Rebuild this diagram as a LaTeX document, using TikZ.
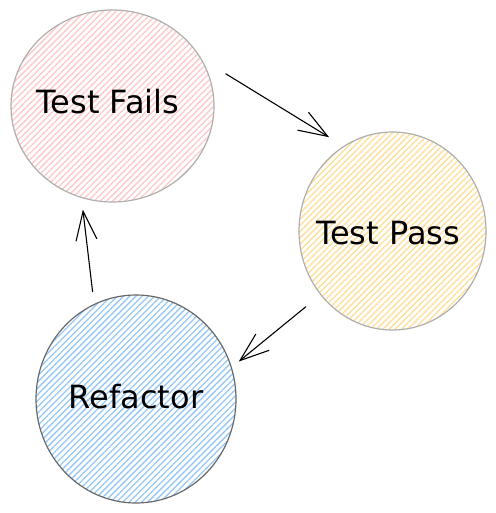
\documentclass[tikz,border=0pt]{standalone}
\usepackage{fontspec}
\setmainfont{DejaVu Sans}
\usetikzlibrary{shapes.geometric,arrows.meta,patterns.meta}
\definecolor{failpink}{RGB}{255,200,200}
\definecolor{passyellow}{RGB}{255,222,150}
\definecolor{refblue}{RGB}{150,200,245}
\definecolor{rimlight}{RGB}{175,175,175}
\definecolor{rimdark}{RGB}{105,105,105}

\begin{document}
\begin{tikzpicture}[x=1pt,y=-1pt,
  stage/.style={ellipse,draw=rimlight,line width=1.2pt,inner sep=0pt,
                pattern={Lines[angle=45,distance=4.4pt,line width=1.3pt]}},
  stagetext/.style={font=\fontsize{32}{38}\selectfont},
  flow/.style={-{Straight Barb[length=29pt,width=21pt]},line width=1.1pt,black}
]
  \fill[white] (0,0) rectangle (495,513);

  \node[stage,pattern color=failpink,minimum width=203pt,minimum height=192pt] (fails) at (112.5,106) {};
  \node[stage,pattern color=passyellow,minimum width=187pt,minimum height=198pt] (pass) at (392.5,231) {};
  \node[stage,draw=rimdark,pattern color=refblue,minimum width=200pt,minimum height=208pt] (refactor) at (136,399) {};

  \node[stagetext] (failstxt) at (108,102) {Test Fails};
  \node[stagetext] (passtxt) at (388,233) {Test Pass};
  \node[stagetext] (refactortxt) at (136,397) {Refactor};

  \draw[flow] ([shift={(15.3,-4.3)}]fails.16) -- ([shift={(-8.75,-12.75)}]pass.124);
  \draw[flow] ([shift={(-13.8,12.4)}]pass.221.6) -- ([shift={(7.8,-2.9)}]refactor.20.4);
  \draw[flow] ([shift={(-4.4,-10.5)}]refactor.112.5) -- ([shift={(-2.9,10.4)}]fails.254);
\end{tikzpicture}
\end{document}
